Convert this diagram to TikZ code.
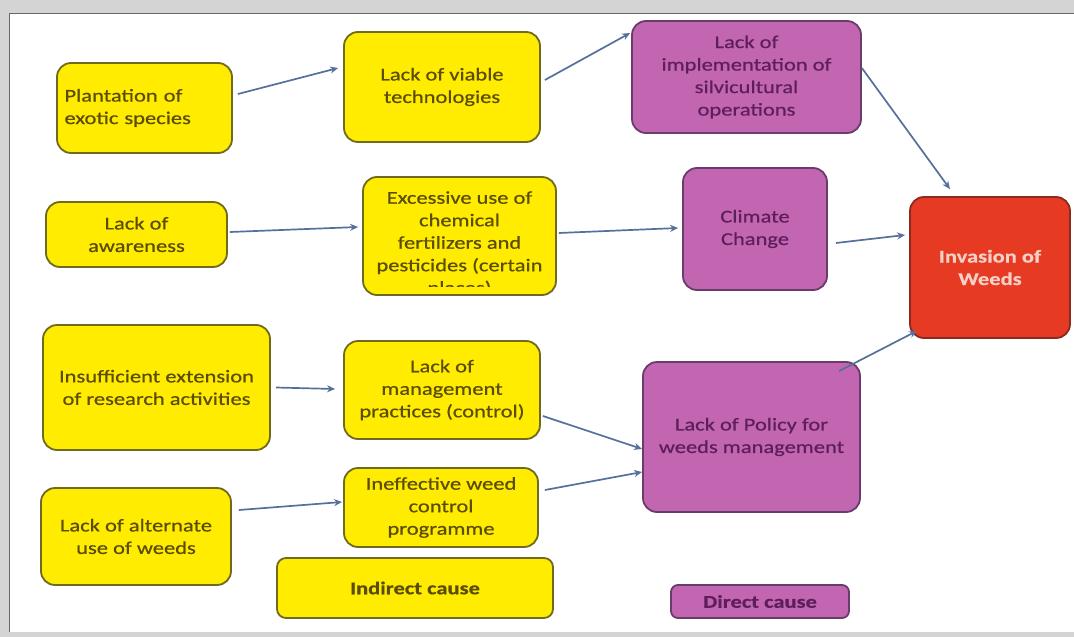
\documentclass[tikz,border=0pt]{standalone}
\usepackage{fontspec}
\setmainfont{Carlito}[FakeStretch=1.25, FakeBold=0.6]
\usetikzlibrary{arrows.meta,calc}
\definecolor{yfill}{HTML}{FFEC00}
\definecolor{ydraw}{HTML}{6E6A1E}
\definecolor{ytext}{HTML}{5B4D00}
\definecolor{pfill}{HTML}{C266B1}
\definecolor{pdraw}{HTML}{6A3C6B}
\definecolor{ptext}{HTML}{5E1E5C}
\definecolor{rfill}{HTML}{E63B22}
\definecolor{rdraw}{HTML}{8B2A20}
\definecolor{rtext}{HTML}{F6CFC6}
\definecolor{arr}{HTML}{56709C}
\definecolor{framegray}{HTML}{D4D4D4}
\tikzset{
  box/.style={rectangle, rounded corners=14pt, line width=1.8pt, inner sep=0pt,
    font=\fontsize{18}{22.5}\selectfont, align=center},
  ybox/.style={box, fill=yfill, draw=ydraw, text=ytext},
  pbox/.style={box, fill=pfill, draw=pdraw, text=ptext},
  rbox/.style={box, fill=rfill, draw=rdraw, text=rtext, font=\fontsize{18}{22.5}\selectfont\bfseries},
  legend/.style={font=\fontsize{18}{22.5}\selectfont\bfseries, rounded corners=9pt},
  con/.style={draw=arr, line width=1.7pt, -{Stealth[length=8pt,width=7pt]}},
}
\begin{document}
\begin{tikzpicture}[x=1pt,y=-1pt]
\useasboundingbox (0,0) rectangle (1074,637);
\fill[framegray] (0,0) rectangle (1074,637);
\fill[white] (9,13) rectangle (1074,632);
\draw[gray!80!black, line width=1pt] (9,632) -- (9,13) -- (1074,13);
% nodes
\node[ybox, align=left, minimum width=175pt, minimum height=90pt, text width=160pt] (plant) at (144.5,108) {Plantation of\\exotic species};
\node[ybox, minimum width=196pt, minimum height=110pt] (viable) at (442,87) {Lack of viable\\technologies};
\node[pbox, minimum width=229pt, minimum height=112pt] (impl) at (746.5,77) {Lack of\\implementation of\\silvicultural\\operations};
\node[ybox, minimum width=181pt, minimum height=65pt] (aware) at (136.5,234.5) {Lack of\\awareness};
\node[ybox, minimum width=193pt, minimum height=118pt] (excess) at (459.5,236) {};
\begin{scope}
\clip (365,179) rectangle (554,286);
\node[box, text=ytext] (excesstxt) at (459.5,244) {Excessive use of\\chemical\\fertilizers and\\pesticides (certain\\places)};
\end{scope}
\node[pbox, minimum width=144pt, minimum height=122pt] (climate) at (755,229) {Climate\\Change};
\node[rbox, minimum width=160pt, minimum height=141pt] (inv) at (990,267.5) {Invasion of\\Weeds};
\node[ybox, minimum width=227pt, minimum height=125pt] (insuff) at (156.5,387.5) {Insufficient extension\\of research activities};
\node[ybox, minimum width=196pt, minimum height=98pt] (mgmt) at (442,390) {Lack of\\management\\practices (control)};
\node[ybox, minimum width=190pt, minimum height=97pt] (alt) at (136,536.5) {Lack of alternate\\use of weeds};
\node[ybox, minimum width=194pt, minimum height=79pt] (ineff) at (441,507.5) {Ineffective weed\\control\\programme};
\node[pbox, minimum width=217pt, minimum height=150pt] (policy) at (751.5,437) {Lack of Policy for\\weeds management};
\node[ybox, legend, minimum width=276pt, minimum height=60pt] (indirect) at (415,588) {Indirect cause};
\node[pbox, legend, minimum width=178pt, minimum height=33pt, rounded corners=7pt] (direct) at (760,601.5) {Direct cause};
% connectors
\draw[con] ($(plant.east)+(5,-14)$) -- ($(viable.west)+(-5,-19)$);
\draw[con] ($(viable.east)+(4,-7)$) -- ($(impl.west)+(-1,-44)$);
\draw[con] ($(impl.east)+(0,-9)$) -- ($(inv.north)+(-40,-7)$);
\draw[con] ($(aware.east)+(2,-2.5)$) -- ($(excess.west)+(-4,-9)$);
\draw[con] ($(excess.east)+(2,-3)$) -- ($(climate.west)+(-4,-1)$);
\draw[con] ($(climate.east)+(8,14)$) -- ($(inv.west)+(-4,-32.5)$);
\draw[con] ($(insuff.east)+(5,0)$) -- ($(mgmt.west)+(-8,-1)$);
\draw[con] ($(alt.east)+(7,-26.5)$) -- ($(ineff.west)+(-1,-5.5)$);
\draw[con] ($(mgmt.east)+(2,26)$) -- ($(policy.west)+(0,12)$);
\draw[con] ($(ineff.east)+(6,-17.5)$) -- ($(policy.west)+(0,35)$);
\draw[con] ($(policy.north)+(87.5,10)$) -- ($(inv.south)+(-73,-8)$);
\end{tikzpicture}
\end{document}
